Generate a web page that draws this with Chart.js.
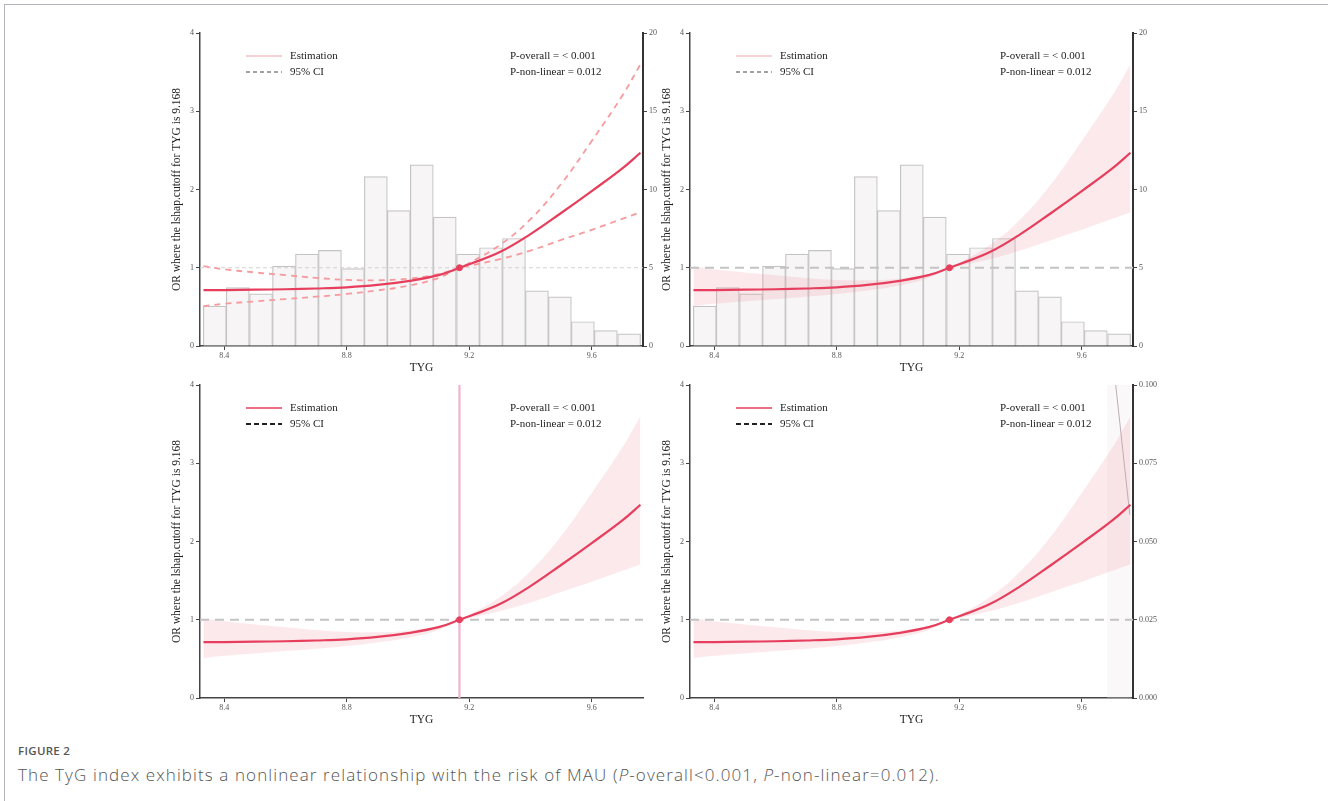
<!DOCTYPE html>
<html>
<head>
<meta charset="utf-8">
<script src="https://cdn.jsdelivr.net/npm/chart.js@4.4.1/dist/chart.umd.min.js"></script>
<style>
  body { margin: 0; background: #fff; width: 1328px; height: 801px; overflow: hidden; position: relative; }
  .frame { position: absolute; left: 4px; top: 4px; right: 0; bottom: 0; border-top: 1px solid #b4b4bc; border-left: 1px solid #b4b4bc; }
  .panel { position: absolute; width: 540px; height: 360px; }
  #p1 { left: 150px; top: 20px; }
  #p2 { left: 640px; top: 20px; }
  #p3 { left: 150px; top: 372px; }
  #p4 { left: 640px; top: 372px; }
  .fig { position: absolute; left: 18px; top: 743px; font: 600 11.5px "Open Sans", sans-serif; color: #555; letter-spacing: 0.3px; }
  .cap { position: absolute; left: 18px; top: 763px; font: 300 17px "Open Sans", sans-serif; color: #555; letter-spacing: 1.1px; }
</style>
</head>
<body>
<div class="frame"></div>
<div class="panel" id="p1"><canvas id="c1" width="540" height="360"></canvas></div>
<div class="panel" id="p2"><canvas id="c2" width="540" height="360"></canvas></div>
<div class="panel" id="p3"><canvas id="c3" width="540" height="360"></canvas></div>
<div class="panel" id="p4"><canvas id="c4" width="540" height="360"></canvas></div>
<div class="fig">FIGURE 2</div>
<div class="cap">The TyG index exhibits a nonlinear relationship with the risk of MAU (<i>P</i>-overall&lt;0.001, <i>P</i>-non-linear=0.012).</div>

<script>
// x axis (TYG)
const xRange = [8.3207, 9.7674];
const xTicks = [8.4, 8.8, 9.2, 9.6];
const cutoff = 9.168;

// spline estimate and 95% CI
const curveX  = [8.332, 8.4, 8.5, 8.6, 8.7, 8.8, 8.9, 9.0, 9.1, 9.168, 9.2, 9.3, 9.4, 9.5, 9.6, 9.7, 9.759];
const estOR   = [0.713, 0.715, 0.72, 0.725, 0.735, 0.75, 0.78, 0.83, 0.905, 1.0, 1.045, 1.20, 1.43, 1.70, 1.98, 2.27, 2.47];
const upperCI = [1.02, 0.98, 0.94, 0.905, 0.87, 0.845, 0.84, 0.86, 0.92, 1.0, 1.06, 1.29, 1.62, 2.07, 2.62, 3.2, 3.6];
const lowerCI = [0.51, 0.54, 0.57, 0.60, 0.63, 0.665, 0.71, 0.77, 0.87, 1.0, 1.025, 1.11, 1.22, 1.355, 1.485, 1.625, 1.71];

// histogram of TYG (right axis)
const binCenters = [8.369, 8.444, 8.520, 8.595, 8.670, 8.745, 8.820, 8.895, 8.970, 9.045,
                    9.120, 9.196, 9.271, 9.346, 9.421, 9.496, 9.571, 9.646, 9.722];
const binCounts  = [2.55, 3.73, 3.33, 5.11, 5.87, 6.11, 4.94, 10.82, 8.65, 11.58,
                    8.23, 5.87, 6.28, 6.87, 3.52, 3.14, 1.55, 0.98, 0.78];

// stray density piece in the last panel (right axis 0-0.1)
const densityX = [9.711, 9.757];
const densityY = [0.100, 0.0585];
const lastBinDensity = 0.12;

const yTitle = 'OR where the lshap.cutoff for TYG is 9.168';
const xTitle = 'TYG';
const legendLabels = ['Estimation', '95% CI'];
const pLabels = ['P-overall = < 0.001', 'P-non-linear = 0.012'];

const RED = '#e63e5c';
const SERIF = '"Liberation Serif", "Times New Roman", serif';

const panelText = {
  id: 'panelText',
  afterDatasetsDraw(chart, args, o) {
    const { ctx, chartArea: a } = chart;
    ctx.save();
    ctx.lineWidth = o.estWidth;
    ctx.strokeStyle = o.estColor;
    ctx.beginPath(); ctx.moveTo(a.left + 46, a.top + 23); ctx.lineTo(a.left + 82, a.top + 23); ctx.stroke();
    ctx.setLineDash(o.ciDash);
    ctx.lineWidth = o.ciWidth;
    ctx.strokeStyle = o.ciColor;
    ctx.beginPath(); ctx.moveTo(a.left + 46, a.top + 39); ctx.lineTo(a.left + 82, a.top + 39); ctx.stroke();
    ctx.setLineDash([]);
    ctx.font = '11px ' + SERIF;
    ctx.fillStyle = '#222';
    ctx.textBaseline = 'middle';
    ctx.fillText(legendLabels[0], a.left + 90, a.top + 23);
    ctx.fillText(legendLabels[1], a.left + 90, a.top + 39);
    ctx.fillText(pLabels[0], a.left + 310, a.top + 23);
    ctx.fillText(pLabels[1], a.left + 310, a.top + 39);
    ctx.restore();
  }
};

function pts(xs, ys) {
  return xs.map((x, i) => ({ x: x, y: ys[i] }));
}

function makePanel(id, opt) {
  const datasets = [];
  if (opt.hist) {
    datasets.push({
      type: 'bar', yAxisID: 'y2', order: 10,
      data: pts(binCenters, binCounts),
      backgroundColor: '#f7f5f6', borderColor: '#c4c4c4', borderWidth: 1.2,
      barPercentage: 1, categoryPercentage: 1, grouped: false
    });
  }
  if (opt.lastBin) {
    datasets.push({
      type: 'bar', yAxisID: 'y2', order: 10,
      data: binCenters.map((x, i) => ({ x: x, y: i === binCenters.length - 1 ? lastBinDensity : null })),
      backgroundColor: 'rgba(242,238,241,0.4)', borderWidth: 0,
      barPercentage: 1, categoryPercentage: 1, grouped: false
    });
    datasets.push({
      type: 'line', yAxisID: 'y2', order: 2,
      data: pts(densityX, densityY),
      borderColor: '#bcaeb4', borderWidth: 1, pointRadius: 0
    });
  }
  if (opt.band) {
    datasets.push({
      type: 'line', order: 6, data: pts(curveX, upperCI),
      borderWidth: 0, pointRadius: 0, tension: 0.4,
      fill: '+1', backgroundColor: 'rgba(236,125,140,0.17)'
    });
    datasets.push({
      type: 'line', order: 6, data: pts(curveX, lowerCI),
      borderWidth: 0, pointRadius: 0, tension: 0.4, fill: false
    });
  } else {
    [upperCI, lowerCI].forEach(ci => datasets.push({
      type: 'line', order: 3, data: pts(curveX, ci),
      borderColor: '#f79a9e', borderWidth: 1.8, borderDash: [6, 5],
      pointRadius: 0, tension: 0.4, fill: false
    }));
  }
  datasets.push({
    type: 'line', order: 4, data: pts(xRange, [1, 1]),
    borderColor: opt.thinRef ? '#d2d2d2' : '#c4c4c4',
    borderWidth: opt.thinRef ? 1 : 2.2,
    borderDash: opt.thinRef ? [4, 3] : [9, 6],
    pointRadius: 0
  });
  if (opt.vline) {
    datasets.push({
      type: 'line', order: 5, data: pts([cutoff, cutoff], [0, 4]),
      borderColor: '#f2b0d2', borderWidth: 2.2, pointRadius: 0
    });
  }
  datasets.push({
    type: 'line', order: 1, data: pts(curveX, estOR),
    borderColor: RED, borderWidth: 2.2, pointRadius: 0,
    tension: 0.4, fill: false
  });
  datasets.push({
    type: 'line', order: 0, data: [{ x: cutoff, y: 1 }],
    showLine: false, pointRadius: 3, pointBackgroundColor: RED, pointBorderColor: RED
  });

  const tickFont = { family: SERIF, size: 8 };
  const axisGrid = { display: true, drawOnChartArea: false, drawTicks: true, tickLength: 4, color: '#444', offset: false };

  const scales = {
    x: {
      type: 'linear', min: xRange[0], max: xRange[1], offset: false,
      afterBuildTicks: s => { s.ticks = xTicks.map(v => ({ value: v })); },
      afterFit: s => { s.height = 34; },
      ticks: { font: tickFont, color: '#555', padding: 1, callback: v => v.toFixed(1), maxRotation: 0, autoSkip: false },
      grid: axisGrid,
      border: { display: true, color: '#444', width: 1.5 },
      title: { display: true, text: xTitle, color: '#222', font: { family: SERIF, size: 11.5 }, padding: { top: 0, bottom: 5 } }
    },
    y: {
      position: 'left', min: 0, max: 4,
      afterFit: s => { s.width = 50; },
      ticks: { stepSize: 1, font: tickFont, color: '#555', padding: 2 },
      grid: axisGrid,
      border: { display: true, color: '#444', width: 1.5 },
      title: { display: true, text: yTitle, color: '#222', font: { family: SERIF, size: 11.5 }, padding: { top: 20, bottom: 0 } }
    }
  };
  if (opt.right) {
    scales.y2 = {
      position: 'right', min: 0, max: opt.right.max,
      afterFit: s => { s.width = 47; },
      ticks: { stepSize: opt.right.step, font: tickFont, color: '#555', padding: 2,
               callback: v => v.toFixed(opt.right.digits) },
      grid: axisGrid,
      border: { display: true, color: '#333', width: 2 }
    };
  }

  new Chart(document.getElementById(id), {
    type: 'line',
    data: { datasets: datasets },
    options: {
      responsive: false,
      animation: false,
      layout: { padding: { top: 13, left: 0, right: opt.right ? 0 : 47, bottom: 0 } },
      plugins: {
        legend: { display: false },
        tooltip: { enabled: false },
        panelText: opt.legend
      },
      scales: scales
    },
    plugins: [panelText]
  });
}

const lightLegend = { estColor: '#f0a3ab', estWidth: 1, ciColor: '#444', ciWidth: 1, ciDash: [4, 3] };
const boldLegend  = { estColor: RED, estWidth: 1.6, ciColor: '#222', ciWidth: 2, ciDash: [5, 3] };

makePanel('c1', { hist: true, band: false, thinRef: true, right: { max: 20, step: 5, digits: 0 }, legend: lightLegend });
makePanel('c2', { hist: true, band: true, right: { max: 20, step: 5, digits: 0 }, legend: lightLegend });
makePanel('c3', { band: true, vline: true, legend: boldLegend });
makePanel('c4', { band: true, lastBin: true, right: { max: 0.1, step: 0.025, digits: 3 }, legend: boldLegend });
</script>
</body>
</html>
